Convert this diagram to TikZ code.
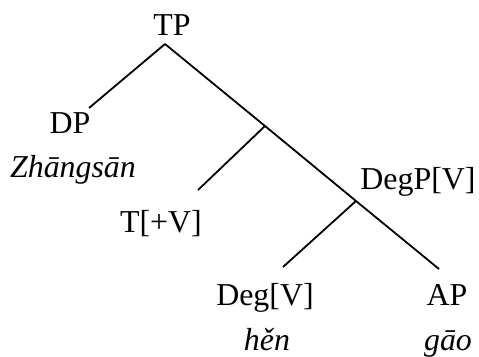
\documentclass[tikz,border=0pt]{standalone}
\usepackage{fontspec}
\setmainfont{Liberation Serif}
\begin{document}
\begin{tikzpicture}[x=1bp,y=-1bp,
  lbl/.style={anchor=base,inner sep=0pt,font=\fontsize{32}{36}\selectfont},
  ilbl/.style={lbl,font=\fontsize{32}{36}\selectfont\itshape},
  branch/.style={line width=1.8bp,line cap=butt}]
\useasboundingbox (0,0) rectangle (479,356);
% labels
\node[lbl] (tp) at (172,35) {TP};
\node[lbl] (dp) at (70,133) {DP};
\node[ilbl] (zs) at (73,177) {Zhāngsān};
\node[lbl] (t) at (161,232) {T[+V]};
\node[lbl] (degp) at (418,189) {DegP[V]};
\node[lbl] (deg) at (265,305) {Deg[V]};
\node[ilbl] (hen) at (267,350) {hěn};
\node[lbl] (ap) at (447,305) {AP};
\node[ilbl] (gao) at (448,350) {gāo};
% branch points
\coordinate (tptop) at (165,44);
\coordinate (dptop) at (89,108);
\coordinate (tbar) at (265,126);
\coordinate (ttop) at (198,190);
\coordinate (degpb) at (356,201);
\coordinate (degtop) at (283,267);
\coordinate (aptop) at (439,269);
% connectors
\draw[branch] (tptop) -- (dptop);
\draw[branch] (tptop) -- (tbar);
\draw[branch] (tbar) -- (ttop);
\draw[branch] (tbar) -- (degpb);
\draw[branch] (degpb) -- (degtop);
\draw[branch] (degpb) -- (aptop);
\end{tikzpicture}
\end{document}
